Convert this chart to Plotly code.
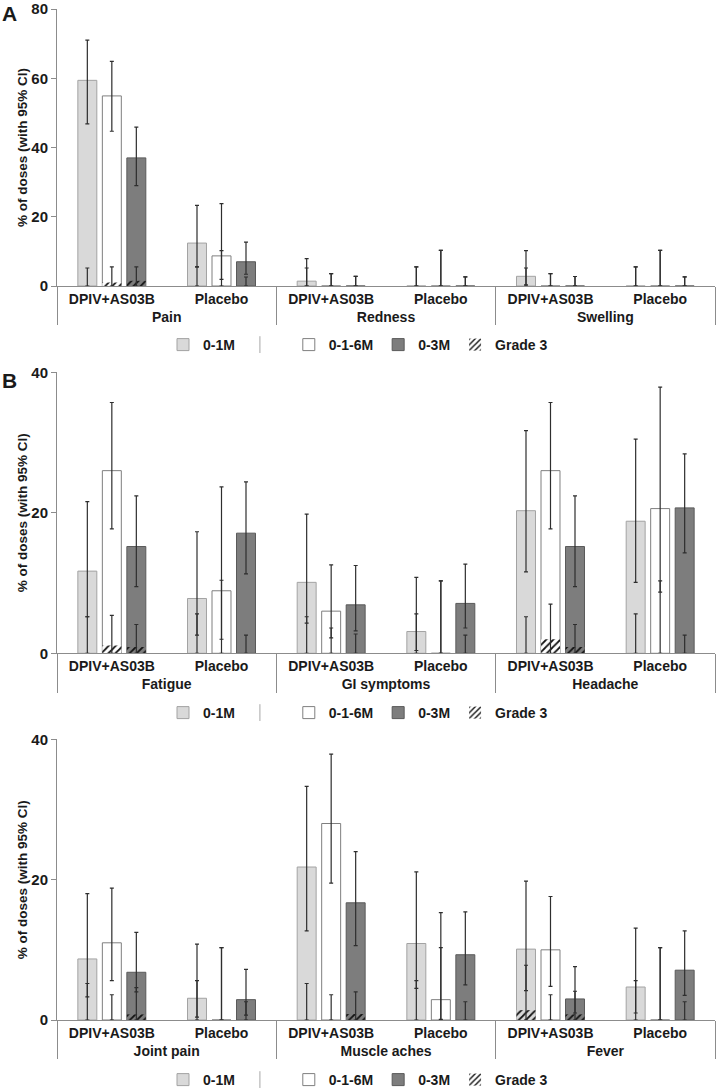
import plotly.graph_objects as go

# ---------------- data ----------------
groups = ["DPIV+AS03B", "Placebo"]
series = ["0-1M", "0-1-6M", "0-3M"]

# Panel A
A_symptoms = ["Pain", "Redness", "Swelling"]
A_01M_val = [59.4, 12.4, 1.4, 0, 2.8, 0]
A_01M_lo = [46.8, 5.5, 0.0, 0, 0.3, 0]
A_01M_hi = [71.0, 23.3, 7.9, 5.5, 10.2, 5.5]
A_01M_g3 = [0, 0, 0, 0, 0, 0]
A_01M_g3hi = [5.2, 5.5, 5.2, 5.5, 5.2, 5.5]

A_016M_val = [54.9, 8.7, 0, 0, 0, 0]
A_016M_lo = [44.7, 1.9, 0, 0, 0, 0]
A_016M_hi = [64.9, 23.8, 3.6, 10.3, 3.6, 10.3]
A_016M_g3 = [1.0, 0, 0, 0, 0, 0]
A_016M_g3hi = [5.5, 10.2, 3.6, 10.3, 3.6, 10.3]

A_03M_val = [37.0, 7.0, 0, 0, 0, 0]
A_03M_lo = [29.0, 3.4, 0, 0, 0, 0]
A_03M_hi = [45.9, 12.7, 2.8, 2.65, 2.75, 2.65]
A_03M_g3 = [1.5, 0, 0, 0, 0, 0]
A_03M_g3hi = [5.5, 2.6, 2.8, 2.65, 2.75, 2.65]

# Panel B (top)
B1_symptoms = ["Fatigue", "GI symptoms", "Headache"]
B1_01M_val = [11.7, 7.8, 10.1, 3.1, 20.3, 18.8]
B1_01M_lo = [5.2, 2.6, 4.3, 0.4, 11.6, 10.1]
B1_01M_hi = [21.6, 17.3, 19.8, 10.8, 31.7, 30.5]
B1_01M_g3 = [0, 0, 0, 0, 0, 0]
B1_01M_g3hi = [5.2, 5.6, 5.2, 5.6, 5.2, 5.6]

B1_016M_val = [26.0, 8.9, 6.0, 0, 26.0, 20.6]
B1_016M_lo = [17.7, 2.0, 2.2, 0, 17.7, 8.7]
B1_016M_hi = [35.7, 23.7, 12.6, 10.3, 35.7, 37.9]
B1_016M_g3 = [1.1, 0, 0, 0, 2.0, 0]
B1_016M_g3hi = [5.4, 10.4, 3.6, 10.3, 7.0, 10.3]

B1_03M_val = [15.2, 17.1, 6.9, 7.1, 15.2, 20.7]
B1_03M_lo = [9.5, 11.3, 3.2, 3.6, 9.5, 14.3]
B1_03M_hi = [22.4, 24.4, 12.5, 12.7, 22.4, 28.4]
B1_03M_g3 = [0.9, 0, 0, 0, 0.9, 0]
B1_03M_g3hi = [4.1, 2.6, 2.75, 2.6, 4.1, 2.6]

# Panel B (bottom)
B2_symptoms = ["Joint pain", "Muscle aches", "Fever"]
B2_01M_val = [8.7, 3.1, 21.8, 10.9, 10.1, 4.7]
B2_01M_lo = [3.3, 0.4, 12.7, 4.5, 4.2, 1.0]
B2_01M_hi = [18.0, 10.8, 33.3, 21.1, 19.8, 13.1]
B2_01M_g3 = [0, 0, 0, 0, 1.4, 0]
B2_01M_g3hi = [5.2, 5.6, 5.2, 5.6, 7.8, 5.6]

B2_016M_val = [11.0, 0, 28.0, 2.9, 10.0, 0]
B2_016M_lo = [5.6, 0, 19.5, 0.1, 4.8, 0]
B2_016M_hi = [18.8, 10.3, 37.9, 15.3, 17.6, 10.3]
B2_016M_g3 = [0, 0, 0, 0, 0, 0]
B2_016M_g3hi = [3.6, 10.3, 3.6, 10.3, 3.6, 10.3]

B2_03M_val = [6.8, 2.9, 16.7, 9.3, 3.0, 7.1]
B2_03M_lo = [4.0, 0.7, 10.6, 5.0, 1.0, 3.5]
B2_03M_hi = [12.5, 7.2, 24.0, 15.4, 7.6, 12.7]
B2_03M_g3 = [0.8, 0, 0.85, 0, 0.8, 0]
B2_03M_g3hi = [4.6, 2.6, 4.0, 2.6, 4.1, 2.6]

y_title = "% of doses (with 95% CI)"

# ---------------- styling ----------------
FONT = "Liberation Sans, Arial, sans-serif"
TXT = "#1a1a1a"
fills = {"0-1M": "#d9d9d9", "0-1-6M": "#ffffff", "0-3M": "#7d7d7d"}
edges = {"0-1M": "#a3a3a3", "0-1-6M": "#7f7f7f", "0-3M": "#5a5a5a"}
ERR = "#2e2e2e"
AXC = "#8c8c8c"
SLOT = 0.2234
BW = 0.173

W, H = 716, 1090
x_dom = [57 / W, 715 / W]
# (top px, bottom px) of each plot area
panel_px = [(9, 286), (372.3, 653.3), (739.3, 1020)]
legend_px = [345, 713, 1080]

panels = [
    dict(sym=A_symptoms, ymax=80,
         data={"0-1M": (A_01M_val, A_01M_lo, A_01M_hi, A_01M_g3, A_01M_g3hi),
               "0-1-6M": (A_016M_val, A_016M_lo, A_016M_hi, A_016M_g3, A_016M_g3hi),
               "0-3M": (A_03M_val, A_03M_lo, A_03M_hi, A_03M_g3, A_03M_g3hi)}),
    dict(sym=B1_symptoms, ymax=40,
         data={"0-1M": (B1_01M_val, B1_01M_lo, B1_01M_hi, B1_01M_g3, B1_01M_g3hi),
               "0-1-6M": (B1_016M_val, B1_016M_lo, B1_016M_hi, B1_016M_g3, B1_016M_g3hi),
               "0-3M": (B1_03M_val, B1_03M_lo, B1_03M_hi, B1_03M_g3, B1_03M_g3hi)}),
    dict(sym=B2_symptoms, ymax=40,
         data={"0-1M": (B2_01M_val, B2_01M_lo, B2_01M_hi, B2_01M_g3, B2_01M_g3hi),
               "0-1-6M": (B2_016M_val, B2_016M_lo, B2_016M_hi, B2_016M_g3, B2_016M_g3hi),
               "0-3M": (B2_03M_val, B2_03M_lo, B2_03M_hi, B2_03M_g3, B2_03M_g3hi)}),
]

fig = go.Figure()
layout = dict(
    width=W, height=H, margin=dict(l=0, r=0, t=0, b=0, autoexpand=False),
    paper_bgcolor="white", plot_bgcolor="white",
    barmode="overlay", template="none",
    font=dict(family=FONT, size=13, color=TXT, weight="bold"),
    showlegend=True,
)

for p_i, p in enumerate(panels):
    sfx = "" if p_i == 0 else str(p_i + 1)
    xa, ya = "x" + sfx, "y" + sfx
    lg = "legend" + sfx
    xcat = [[s for s in p["sym"] for g in groups], [g for s in p["sym"] for g in groups]]

    main_traces, g3_traces = [], []
    for k, s in enumerate(series):
        val, lo, hi, g3, g3hi = p["data"][s]
        off = (k - 1) * SLOT - BW / 2
        main_traces.append(go.Bar(
            x=xcat, y=val, width=BW, offset=off, name=s,
            xaxis=xa, yaxis=ya, legend=lg, showlegend=True,
            marker=dict(color=fills[s], line=dict(color=edges[s], width=1)),
            error_y=dict(type="data", symmetric=False,
                         array=[h - v for h, v in zip(hi, val)],
                         arrayminus=[v - l for v, l in zip(val, lo)],
                         color=ERR, thickness=1.2, width=2),
            hoverinfo="skip",
        ))
        g3_traces.append(go.Bar(
            x=xcat, y=g3, width=BW, offset=off, name="Grade 3",
            xaxis=xa, yaxis=ya, legend=lg, showlegend=(s == "0-1-6M"),
            marker=dict(color=fills[s], line=dict(color=edges["0-1-6M"], width=0),
                        pattern=dict(shape="/", fgcolor="#141414", bgcolor=fills[s],
                                     size=5, solidity=0.35)),
            error_y=dict(type="data", symmetric=False,
                         array=[h - v for h, v in zip(g3hi, g3)],
                         arrayminus=list(g3),
                         color=ERR, thickness=1.2, width=2),
            hoverinfo="skip",
        ))
    sep = go.Scatter(
        x=[[p["sym"][0]], [groups[0]]], y=[None], mode="markers", name=" ",
        xaxis=xa, yaxis=ya, legend=lg, showlegend=True,
        marker=dict(symbol="line-ns", size=12, line=dict(color="#a8a8a8", width=1)),
        hoverinfo="skip",
    )
    fig.add_trace(main_traces[0])
    fig.add_trace(sep)
    fig.add_trace(main_traces[1])
    fig.add_trace(main_traces[2])
    for t in g3_traces:
        fig.add_trace(t)

    top, bot = panel_px[p_i]
    layout["xaxis" + sfx] = dict(
        type="multicategory", domain=x_dom, anchor=ya, range=[-0.5, 5.5],
        showline=True, linecolor=AXC, linewidth=1, ticks="",
        showdividers=True, dividercolor=AXC, dividerwidth=1,
        tickfont=dict(family=FONT, size=14, color=TXT, weight="bold"),
        showgrid=False, zeroline=False, automargin=False,
    )
    layout["yaxis" + sfx] = dict(
        domain=[1 - bot / H, 1 - top / H], anchor=xa, range=[0, p["ymax"]], dtick=20,
        showline=True, linecolor=AXC, linewidth=1, ticks="outside", ticklen=5,
        tickcolor=AXC, showgrid=False, zeroline=False, automargin=False,
        ticklabeloverflow="allow",
        tickfont=dict(family=FONT, size=15, color=TXT, weight="bold"),
        title=dict(text=y_title, standoff=0,
                   font=dict(family=FONT, size=13.5, color=TXT, weight="bold")),
    )
    layout[lg] = dict(
        orientation="h", x=0.5, xanchor="center", y=1 - legend_px[p_i] / H,
        yanchor="middle", itemwidth=30, bgcolor="rgba(0,0,0,0)",
        font=dict(family=FONT, size=14, color=TXT, weight="bold"),
        traceorder="normal",
    )

layout["annotations"] = [
    dict(text="A", x=0, y=1, xref="paper", yref="paper", xanchor="left",
         yanchor="top", showarrow=False,
         font=dict(family=FONT, size=21, color=TXT, weight="bold")),
    dict(text="B", x=0, y=1 - 380 / H, xref="paper", yref="paper", xanchor="left",
         yanchor="middle", showarrow=False,
         font=dict(family=FONT, size=21, color=TXT, weight="bold")),
]

fig.update_layout(**layout)
fig.write_html(
    "out.html",
    config={"displayModeBar": False},
    post_script="document.body.style.margin='0';document.body.style.overflow='hidden';",
)
